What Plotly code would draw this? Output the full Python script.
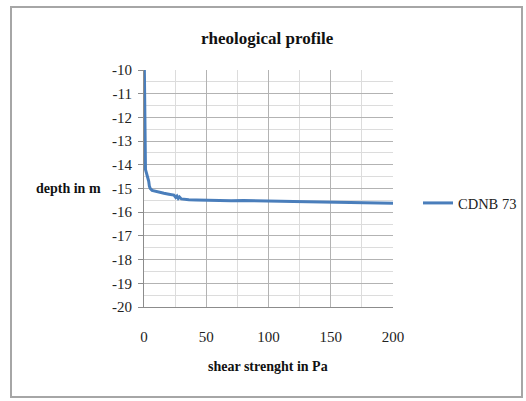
import plotly.graph_objects as go

# shear strength (Pa) vs depth (m)
shear = [0.3, 0.4, 0.5, 0.6, 0.8, 1.2, 2.0, 3.0, 3.8, 4.3, 5.0, 6.5, 9.0, 12.0, 16.0,
         20.0, 24.0, 25.5, 26.5, 27.5, 28.5, 30.0, 32.0, 36.0, 42.0, 50.0, 60.0,
         70.0, 80.0, 90.0, 100.0, 110.0, 120.0, 130.0, 140.0, 150.0, 160.0, 170.0,
         180.0, 190.0, 200.0]
depth = [-10.0, -11.0, -12.0, -13.0, -13.8, -14.2, -14.35, -14.5, -14.7, -14.9, -15.0,
         -15.08, -15.12, -15.16, -15.2, -15.24, -15.28, -15.38, -15.32, -15.42, -15.36,
         -15.44, -15.46, -15.47, -15.48, -15.5, -15.5, -15.52, -15.51, -15.53, -15.54,
         -15.54, -15.55, -15.56, -15.56, -15.57, -15.6, -15.6, -15.61, -15.61, -15.62]
series_name = "CDNB 73"

x_ticks = [0, 50, 100, 150, 200]
y_ticks = [-20, -19, -18, -17, -16, -15, -14, -13, -12, -11, -10]
y_labels = [str(v) for v in y_ticks]  # plain hyphen like the original

W, H = 526, 401
L, R, T, B = 144, 393, 70, 307


def px(x):
    return (x - L) / (R - L)


def py(y):
    return (B - y) / (B - T)


serif = "Liberation Serif"

fig = go.Figure()
fig.add_trace(go.Scatter(x=shear, y=depth, mode="lines", name=series_name,
                         line=dict(color="#4a7ebb", width=3)))

fig.update_layout(
    width=W, height=H,
    margin=dict(l=L, r=W - R, t=T, b=H - B),
    paper_bgcolor="white", plot_bgcolor="white",
    font=dict(family=serif, size=15, color="#222"),
    showlegend=True,
    legend=dict(xref="container", yref="container", x=418 / W, y=1 - 203 / H,
                xanchor="left", yanchor="middle",
                font=dict(family=serif, size=14.5, color="#222"),
                itemwidth=30, bgcolor="rgba(0,0,0,0)"),
    xaxis=dict(range=[0, 200], tickvals=x_ticks, showgrid=True,
               gridcolor="#b3b3b3", gridwidth=1,
               minor=dict(dtick=25, showgrid=True, gridcolor="#dcdcdc"),
               showline=True, linecolor="#8c8c8c", zeroline=False,
               ticks="", ticklabelstandoff=16,
               tickfont=dict(family=serif, size=15, color="#222")),
    yaxis=dict(range=[-20, -10], tickvals=y_ticks, ticktext=y_labels, showgrid=True,
               gridcolor="#b3b3b3", gridwidth=1,
               minor=dict(dtick=0.5, showgrid=True, gridcolor="#dcdcdc"),
               showline=True, linecolor="#8c8c8c", zeroline=False,
               ticks="outside", ticklen=5, tickcolor="#8c8c8c",
               ticklabelstandoff=3,
               tickfont=dict(family=serif, size=15, color="#222")),
    shapes=[dict(type="rect", xref="paper", yref="paper",
                 x0=px(11), x1=px(522), y0=py(397), y1=py(7),
                 line=dict(color="#a6a6a6", width=2), layer="below")],
    annotations=[
        dict(text="<b>rheological profile</b>", xref="paper", yref="paper",
             x=px(267), y=py(38), xanchor="center", yanchor="middle", showarrow=False,
             font=dict(family=serif, size=17, color="#111")),
        dict(text="<b>depth in m</b>", xref="paper", yref="paper",
             x=px(68), y=py(188), xanchor="center", yanchor="middle", showarrow=False,
             font=dict(family=serif, size=14, color="#111")),
        dict(text="<b>shear strenght in Pa</b>", xref="paper", yref="paper",
             x=px(268), y=py(366), xanchor="center", yanchor="middle", showarrow=False,
             font=dict(family=serif, size=14, color="#111")),
    ],
)

fig.write_html("out.html", config={"displayModeBar": False},
               post_script="document.body.style.margin='0';")
